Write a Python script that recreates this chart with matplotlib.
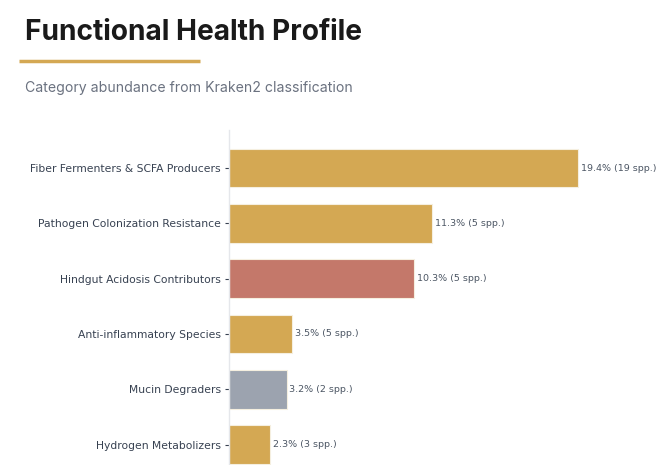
import matplotlib
matplotlib.use('Agg')
import matplotlib.pyplot as plt

# data
categories = ['Fiber Fermenters & SCFA Producers', 'Pathogen Colonization Resistance',
              'Hindgut Acidosis Contributors', 'Anti-inflammatory Species',
              'Mucin Degraders', 'Hydrogen Metabolizers']
abundance = [19.4, 11.3, 10.3, 3.5, 3.2, 2.3]
species = [19, 5, 5, 5, 2, 3]
colors = ['#D4A853', '#D4A853', '#C4786A', '#D4A853', '#9CA3AF', '#D4A853']


def main():
    fig = plt.figure(figsize=(6.63, 4.65), dpi=100)

    # title block
    fig.text(25 / 663, 1 - 32 / 465, 'Functional Health Profile', fontsize=20.2,
             fontweight='bold', family='Inter', color='#1a1a1a', va='center')
    fig.add_artist(plt.Line2D([19 / 663, 200 / 663], [1 - 61 / 465, 1 - 61 / 465],
                              color='#D4A853', lw=2.5, solid_capstyle='butt'))
    fig.text(25 / 663, 1 - 88 / 465, 'Category abundance from Kraken2 classification',
             fontsize=10.15, family='Inter', color='#6B7280', va='center')

    ax = fig.add_axes([229 / 663, 0, 411 / 663, 335 / 465])
    y = list(range(len(categories)))
    ax.barh(y, abundance, height=0.7, color=colors, edgecolor='#F5EFE0', linewidth=0.8)

    for yi, v, n in zip(y, abundance, species):
        ax.text(v + 0.15, yi, f'{v}% ({n} spp.)', va='center', ha='left',
                fontsize=6.8, color='#4B5563')

    ax.set_yticks(y)
    ax.set_yticklabels(categories, fontsize=7.75, color='#374151')
    ax.tick_params(axis='y', length=3, width=0.8, color='#374151', pad=3)
    ax.set_xticks([])
    ax.set_xlim(0, 411 / 18.0)
    ax.set_ylim(5.37, -0.69)
    for s in ['top', 'right', 'bottom']:
        ax.spines[s].set_visible(False)
    ax.spines['left'].set_color('#E5E7EB')
    ax.spines['left'].set_linewidth(1)

    fig.savefig('out.png', dpi=100)


if __name__ == '__main__':
    main()
